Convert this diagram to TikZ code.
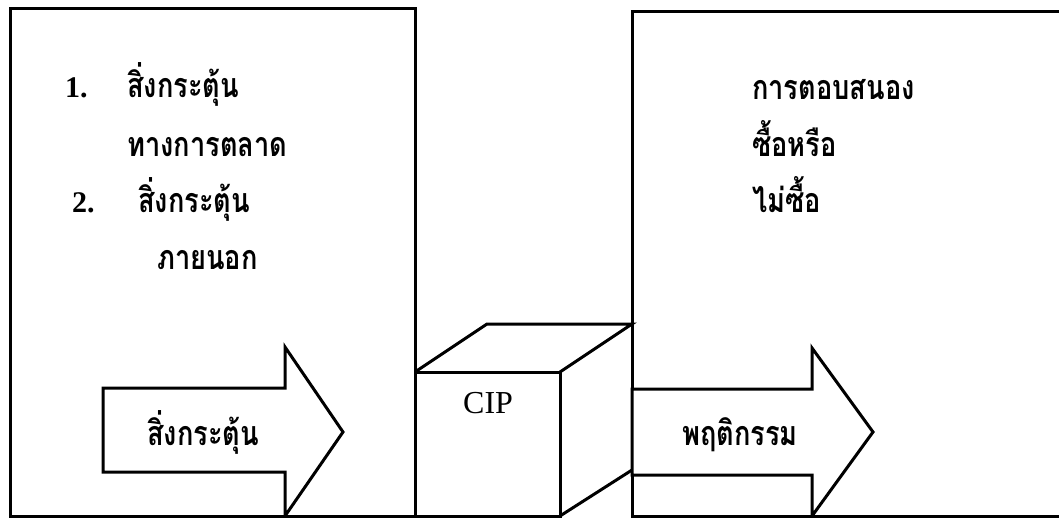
\documentclass[tikz,border=0pt]{standalone}
\usepackage{fontspec}
\setmainfont{Liberation Serif}
\newfontfamily\thaifont[Script=Thai,FakeStretch=0.8]{Loma}
\begin{document}
\begin{tikzpicture}[x=1pt,y=-1pt,
  frame/.style={draw=black,line width=3pt,line join=miter},
  thick arrow/.style={draw=black,fill=white,line width=3pt,line join=miter},
  thai/.style={anchor=base west,inner sep=0pt,font=\thaifont\bfseries\fontsize{34}{40}\selectfont},
  latin/.style={anchor=base west,inner sep=0pt,font=\fontsize{32}{36}\selectfont},
  numeral/.style={latin,font=\bfseries\fontsize{30}{36}\selectfont}]
\useasboundingbox (0,0) rectangle (1059,518);

% stimulus box
\draw[frame] (10,9) rectangle (415,516);
\node[numeral] (n1) at (65,98) {1.};
\node[thai] (s1) at (127,98) {สิ่งกระตุ้น};
\node[thai] (s1b) at (127,157) {ทางการตลาด};
\node[numeral] (n2) at (72,213) {2.};
\node[thai] (s2) at (138,213) {สิ่งกระตุ้น};
\node[thai] (s2b) at (157,270) {ภายนอก};

% stimulus arrow
\draw[thick arrow] (103,388) -- (285,388) -- (285,347) -- (343,432)
  -- (285,516) -- (285,472) -- (103,472) -- cycle;
\node[thai] (stim) at (147,445) {สิ่งกระตุ้น};

% CIP cube
\draw[frame] (415,372) rectangle (560,516);
\draw[frame] (415,372) -- (487,324) -- (632,324) -- (560,372);
\draw[frame] (560,516) -- (632,470);
\node[latin] (cip) at (463,413) {CIP};

% response box (open on the right)
\draw[frame] (1062,12) -- (632,12) -- (632,516) -- (1062,516);
\node[thai] (r1) at (752,100) {การตอบสนอง};
\node[thai] (r2) at (752,157) {ซื้อหรือ};
\node[thai] (r3) at (752,213) {ไม่ซื้อ};

% behaviour arrow
\draw[thick arrow] (632,389) -- (812,389) -- (812,348) -- (873,432)
  -- (812,516) -- (812,475) -- (632,475) -- cycle;
\node[thai] (beh) at (682,445) {พฤติกรรม};
\end{tikzpicture}
\end{document}
